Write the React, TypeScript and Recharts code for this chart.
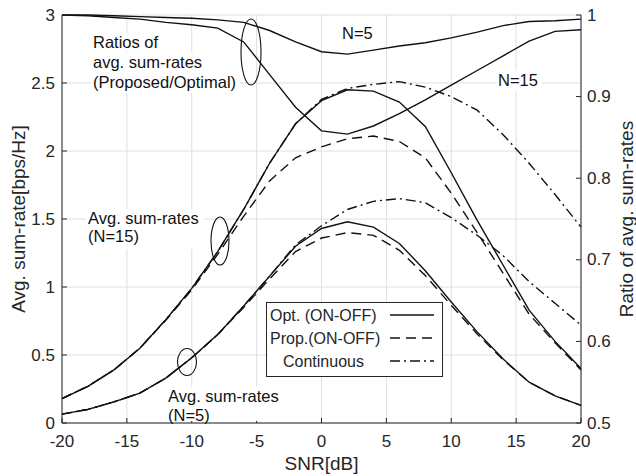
import { LineChart, Line, XAxis, YAxis, CartesianGrid, Legend } from 'recharts';

// SNR grid (dB)
const snrDb = [-20, -18, -16, -14, -12, -10, -8, -6, -4, -2, 0, 2, 4, 6, 8, 10, 12, 14, 16, 18, 20];

// avg. sum-rates [bps/Hz], N=15
const optN15 = [0.18, 0.27, 0.39, 0.55, 0.76, 0.99, 1.26, 1.57, 1.91, 2.2, 2.37, 2.45, 2.44, 2.36, 2.18, 1.84, 1.49, 1.16, 0.83, 0.6, 0.4];
const propN15 = [0.18, 0.27, 0.39, 0.55, 0.755, 0.98, 1.24, 1.52, 1.78, 1.95, 2.03, 2.09, 2.11, 2.07, 1.95, 1.69, 1.4, 1.1, 0.8, 0.59, 0.39];
const contN15 = [0.18, 0.27, 0.39, 0.55, 0.76, 0.99, 1.26, 1.57, 1.91, 2.2, 2.38, 2.46, 2.49, 2.51, 2.47, 2.4, 2.3, 2.12, 1.91, 1.68, 1.44];

// avg. sum-rates [bps/Hz], N=5
const optN5 = [0.065, 0.1, 0.155, 0.22, 0.33, 0.48, 0.65, 0.86, 1.08, 1.3, 1.43, 1.48, 1.44, 1.32, 1.12, 0.89, 0.67, 0.47, 0.3, 0.2, 0.13];
const propN5 = [0.065, 0.1, 0.155, 0.22, 0.33, 0.48, 0.65, 0.85, 1.06, 1.26, 1.36, 1.4, 1.38, 1.27, 1.085, 0.865, 0.655, 0.465, 0.3, 0.2, 0.13];
const contN5 = [0.065, 0.1, 0.155, 0.22, 0.33, 0.48, 0.65, 0.86, 1.08, 1.31, 1.45, 1.57, 1.63, 1.65, 1.62, 1.51, 1.38, 1.23, 1.04, 0.88, 0.72];

// ratio proposed / optimal (right axis)
const ratioN5 = [1.0, 1.0, 0.999, 0.998, 0.997, 0.996, 0.994, 0.991, 0.981, 0.967, 0.955, 0.952, 0.957, 0.962, 0.966, 0.972, 0.979, 0.987, 0.992, 0.993, 0.995];
const ratioN15 = [1.0, 0.999, 0.997, 0.995, 0.991, 0.988, 0.984, 0.967, 0.927, 0.887, 0.858, 0.854, 0.864, 0.879, 0.896, 0.914, 0.932, 0.95, 0.968, 0.98, 0.982];

const xTicks = [-20, -15, -10, -5, 0, 5, 10, 15, 20];
const rateTicks = [0, 0.5, 1, 1.5, 2, 2.5, 3];
const ratioTicks = [0.5, 0.6, 0.7, 0.8, 0.9, 1];

const legendOrder = ['Opt. (ON-OFF)', 'Prop.(ON-OFF)', 'Continuous'];

const data = snrDb.map((snr, i) => ({
  snr,
  optN15: optN15[i],
  propN15: propN15[i],
  contN15: contN15[i],
  optN5: optN5[i],
  propN5: propN5[i],
  contN5: contN5[i],
  ratioN5: ratioN5[i],
  ratioN15: ratioN15[i],
}));

const FONT = '"Liberation Sans", Arial, Helvetica, sans-serif';
const INK = '#262626';
const LINE = '#111';
const TICK = 5;
const DASH = '10 6';
const DASHDOT = '10 4 2 4';
const dashFor: Record<string, string | undefined> = {
  'Opt. (ON-OFF)': undefined,
  'Prop.(ON-OFF)': DASH,
  Continuous: DASHDOT,
};

const BottomTick = ({ x, y, payload }: any) => (
  <g>
    <line x1={x} x2={x} y1={y} y2={y - TICK} stroke={INK} />
    <text x={x} y={y + 18} textAnchor="middle" dominantBaseline="central" fontSize={17} fill={INK} fontFamily={FONT}>
      {payload.value}
    </text>
  </g>
);

const TopTick = ({ x, y }: any) => <line x1={x} x2={x} y1={y} y2={y + TICK} stroke={INK} />;

const LeftTick = ({ x, y, payload }: any) => (
  <g>
    <line x1={x} x2={x + TICK} y1={y} y2={y} stroke={INK} />
    <text x={x - 7} y={y} textAnchor="end" dominantBaseline="central" fontSize={17} fill={INK} fontFamily={FONT}>
      {payload.value}
    </text>
  </g>
);

const RightTick = ({ x, y, payload }: any) => (
  <g>
    <line x1={x} x2={x - TICK} y1={y} y2={y} stroke={INK} />
    <text x={x + 6} y={y} textAnchor="start" dominantBaseline="central" fontSize={17} fill={INK} fontFamily={FONT}>
      {payload.value}
    </text>
  </g>
);

const MirrorTick = ({ x, y }: any) => <line x1={x} x2={x - TICK} y1={y} y2={y} stroke={INK} />;

const leftLabel = ({ viewBox }: any) => {
  const cx = viewBox.x + 18;
  const cy = viewBox.y + viewBox.height / 2;
  return (
    <text x={cx} y={cy} transform={`rotate(-90 ${cx} ${cy})`} textAnchor="middle" dominantBaseline="central" fontSize={19} fill={INK} fontFamily={FONT}>
      Avg. sum-rate[bps/Hz]
    </text>
  );
};

const rightLabel = ({ viewBox }: any) => {
  const cx = viewBox.x + 45;
  const cy = viewBox.y + viewBox.height / 2;
  return (
    <text x={cx} y={cy} transform={`rotate(-90 ${cx} ${cy})`} textAnchor="middle" dominantBaseline="central" fontSize={19} fill={INK} fontFamily={FONT}>
      Ratio of avg. sum-rates
    </text>
  );
};

const bottomLabel = ({ viewBox }: any) => (
  <text x={viewBox.x + viewBox.width / 2} y={viewBox.y + 40} textAnchor="middle" dominantBaseline="central" fontSize={19} fill={INK} fontFamily={FONT}>
    SNR[dB]
  </text>
);

const LegendBox = ({ payload }: any) => {
  const items = legendOrder.filter((name) => (payload || []).some((p: any) => p.value === name));
  return (
    <svg width={177} height={75} style={{ display: 'block' }}>
      <rect x={0.5} y={0.5} width={176} height={74} fill="#fff" stroke={INK} />
      {items.map((name, i) => {
        const cy = 13 + i * 23;
        return (
          <g key={name}>
            <text x={i === 2 ? 17 : 4} y={cy} dominantBaseline="central" fontSize={16} fill={INK} fontFamily={FONT}>
              {name}
            </text>
            <line x1={124} x2={168} y1={cy} y2={cy} stroke={LINE} strokeWidth={1.3} strokeDasharray={dashFor[name]} />
          </g>
        );
      })}
    </svg>
  );
};

// text annotations with white backing, plus the grouping ellipses
const notes = [
  { text: 'Ratios of', x: 93, y: 48 },
  { text: 'avg. sum-rates', x: 93, y: 68 },
  { text: '(Proposed/Optimal)', x: 93, y: 88 },
  { text: 'N=5', x: 342, y: 39 },
  { text: 'N=15', x: 498, y: 86 },
  { text: 'Avg. sum-rates', x: 88, y: 224 },
  { text: '(N=15)', x: 88, y: 242 },
  { text: 'Avg. sum-rates', x: 168, y: 402 },
  { text: '(N=5)', x: 168, y: 421 },
];
const noteBacks = [
  { x: 91, y: 33, w: 72, h: 19 },
  { x: 91, y: 53, w: 116, h: 20 },
  { x: 91, y: 73, w: 149, h: 20 },
  { x: 496, y: 71, w: 46, h: 20 },
  { x: 86, y: 209, w: 118, h: 40 },
  { x: 166, y: 387, w: 116, h: 34 },
];
const ellipses = [
  { cx: 251, cy: 52, rx: 10, ry: 33 },
  { cx: 220, cy: 241, rx: 9, ry: 24 },
  { cx: 187, cy: 362, rx: 9.5, ry: 13.5 },
];

export default function App() {
  return (
    <div style={{ position: 'absolute', left: 0, top: 0, width: 636, height: 476, background: '#fff' }}>
      <LineChart width={636} height={476} data={data} margin={{ top: 15, right: 0, bottom: 0, left: 0 }}>
        <CartesianGrid xAxisId="bottom" yAxisId="left" stroke="#dedede" strokeWidth={1} />
        <XAxis
          xAxisId="bottom"
          dataKey="snr"
          type="number"
          domain={[-20, 20]}
          ticks={xTicks}
          interval={0}
          height={53}
          tickSize={0}
          tickMargin={0}
          tick={BottomTick}
          axisLine={{ stroke: INK }}
          label={bottomLabel}
        />
        <XAxis
          xAxisId="top"
          orientation="top"
          dataKey="snr"
          type="number"
          domain={[-20, 20]}
          ticks={xTicks}
          interval={0}
          height={0}
          tickSize={0}
          tickMargin={0}
          tick={TopTick}
          axisLine={{ stroke: INK }}
        />
        <YAxis
          yAxisId="left"
          type="number"
          domain={[0, 3]}
          ticks={rateTicks}
          interval={0}
          width={62}
          tickSize={0}
          tickMargin={0}
          tick={LeftTick}
          axisLine={{ stroke: INK }}
          label={leftLabel}
        />
        <YAxis
          yAxisId="mirror"
          orientation="right"
          type="number"
          domain={[0, 3]}
          ticks={rateTicks}
          interval={0}
          width={0}
          tickSize={0}
          tickMargin={0}
          tick={MirrorTick}
          axisLine={false}
        />
        <YAxis
          yAxisId="right"
          orientation="right"
          type="number"
          domain={[0.5, 1]}
          ticks={ratioTicks}
          interval={0}
          width={55}
          tickSize={0}
          tickMargin={0}
          tick={RightTick}
          axisLine={{ stroke: INK }}
          label={rightLabel}
        />
        <Legend
          layout="horizontal"
          verticalAlign="middle"
          align="center"
          wrapperStyle={{ left: 266, top: 302, width: 177, height: 75 }}
          content={LegendBox}
        />

        <Line xAxisId="bottom" yAxisId="left" type="linear" dataKey="optN15" name="Opt. (ON-OFF)" stroke={LINE} strokeWidth={1.4} dot={false} isAnimationActive={false} />
        <Line xAxisId="bottom" yAxisId="left" type="linear" dataKey="propN15" name="Prop.(ON-OFF)" stroke={LINE} strokeWidth={1.4} strokeDasharray={DASH} dot={false} isAnimationActive={false} />
        <Line xAxisId="bottom" yAxisId="left" type="linear" dataKey="contN15" name="Continuous" stroke={LINE} strokeWidth={1.4} strokeDasharray={DASHDOT} dot={false} isAnimationActive={false} />
        <Line xAxisId="bottom" yAxisId="left" type="linear" dataKey="optN5" legendType="none" stroke={LINE} strokeWidth={1.4} dot={false} isAnimationActive={false} />
        <Line xAxisId="bottom" yAxisId="left" type="linear" dataKey="propN5" legendType="none" stroke={LINE} strokeWidth={1.4} strokeDasharray={DASH} dot={false} isAnimationActive={false} />
        <Line xAxisId="bottom" yAxisId="left" type="linear" dataKey="contN5" legendType="none" stroke={LINE} strokeWidth={1.4} strokeDasharray={DASHDOT} dot={false} isAnimationActive={false} />
        <Line xAxisId="bottom" yAxisId="right" type="linear" dataKey="ratioN5" legendType="none" stroke={LINE} strokeWidth={1.4} dot={false} isAnimationActive={false} />
        <Line xAxisId="bottom" yAxisId="right" type="linear" dataKey="ratioN15" legendType="none" stroke={LINE} strokeWidth={1.4} dot={false} isAnimationActive={false} />
      </LineChart>

      <svg width={636} height={476} style={{ position: 'absolute', left: 0, top: 0, pointerEvents: 'none' }}>
        {noteBacks.map((b, i) => (
          <rect key={i} x={b.x} y={b.y} width={b.w} height={b.h} fill="#fff" />
        ))}
        {notes.map((n, i) => (
          <text key={i} x={n.x} y={n.y} fontSize={16.5} fill="#111" fontFamily={FONT}>
            {n.text}
          </text>
        ))}
        {ellipses.map((e, i) => (
          <ellipse key={i} cx={e.cx} cy={e.cy} rx={e.rx} ry={e.ry} fill="none" stroke="#111" strokeWidth={1.1} />
        ))}
      </svg>
    </div>
  );
}
